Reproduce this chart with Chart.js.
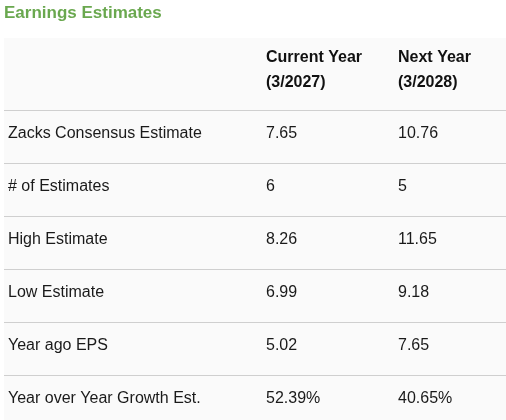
<!DOCTYPE html>
<html>
<head>
<meta charset="utf-8">
<script src="https://cdn.jsdelivr.net/npm/chart.js@4/dist/chart.umd.min.js"></script>
<style>
  html, body { margin: 0; padding: 0; background: #fff; }
  #wrap { width: 506px; height: 420px; overflow: hidden; }
</style>
</head>
<body>
<div id="wrap"><canvas id="tbl" width="506" height="428"></canvas></div>
<script>
var titleText = 'Earnings Estimates';
var headerCur = ['Current Year', '(3/2027)'];
var headerNext = ['Next Year', '(3/2028)'];
var rowNames = ['Zacks Consensus Estimate', '# of Estimates', 'High Estimate',
  'Low Estimate', 'Year ago EPS', 'Year over Year Growth Est.'];
var currentYear = ['7.65', '6', '8.26', '6.99', '5.02', '52.39%'];
var nextYear = ['10.76', '5', '11.65', '9.18', '7.65', '40.65%'];

// column text offsets from table left edge
const COL_X = [4, 262, 394];

var tablePlugin = {
  id: 'tableCells',
  beforeDraw: function (chart) {
    var ctx = chart.ctx, a = chart.chartArea;
    ctx.save();
    ctx.fillStyle = '#fafafa';
    ctx.fillRect(a.left, 38, a.right - a.left, chart.height - 38);
    ctx.restore();
  },
  afterDraw: function (chart) {
    var ctx = chart.ctx, a = chart.chartArea, y = chart.scales.y;
    ctx.save();
    ctx.fillStyle = '#6aa84f';
    ctx.font = 'bold 17px Arial, "Liberation Sans"';
    ctx.textBaseline = 'middle';
    ctx.fillText(titleText, 4, 13);

    ctx.fillStyle = '#111';
    ctx.font = 'bold 16px Arial, "Liberation Sans"';
    [headerCur, headerNext].forEach(function (h, c) {
      h.forEach(function (line, k) {
        ctx.fillText(line, a.left + COL_X[c + 1], 58 + k * 25);
      });
    });

    ctx.fillStyle = '#1a1a1a';
    ctx.font = '16px Arial, "Liberation Sans"';
    rowNames.forEach(function (name, i) {
      var py = y.getPixelForValue(i) - 3;
      ctx.fillText(name, a.left + COL_X[0], py);
      ctx.fillText(currentYear[i], a.left + COL_X[1], py);
      ctx.fillText(nextYear[i], a.left + COL_X[2], py);
    });
    ctx.restore();
  }
};

new Chart(document.getElementById('tbl').getContext('2d'), {
  type: 'bar',
  data: { labels: rowNames, datasets: [] },
  options: {
    responsive: false,
    animation: false,
    devicePixelRatio: 1,
    layout: { padding: { top: 110, left: 4, right: 0, bottom: 0 } },
    plugins: { legend: { display: false }, tooltip: { enabled: false } },
    scales: {
      x: { display: false },
      y: {
        type: 'category',
        offset: true,
        ticks: { display: false },
        border: { display: false },
        grid: { offset: true, color: '#cfcfcf', lineWidth: 1, drawTicks: false }
      }
    }
  },
  plugins: [tablePlugin]
});
</script>
</body>
</html>
